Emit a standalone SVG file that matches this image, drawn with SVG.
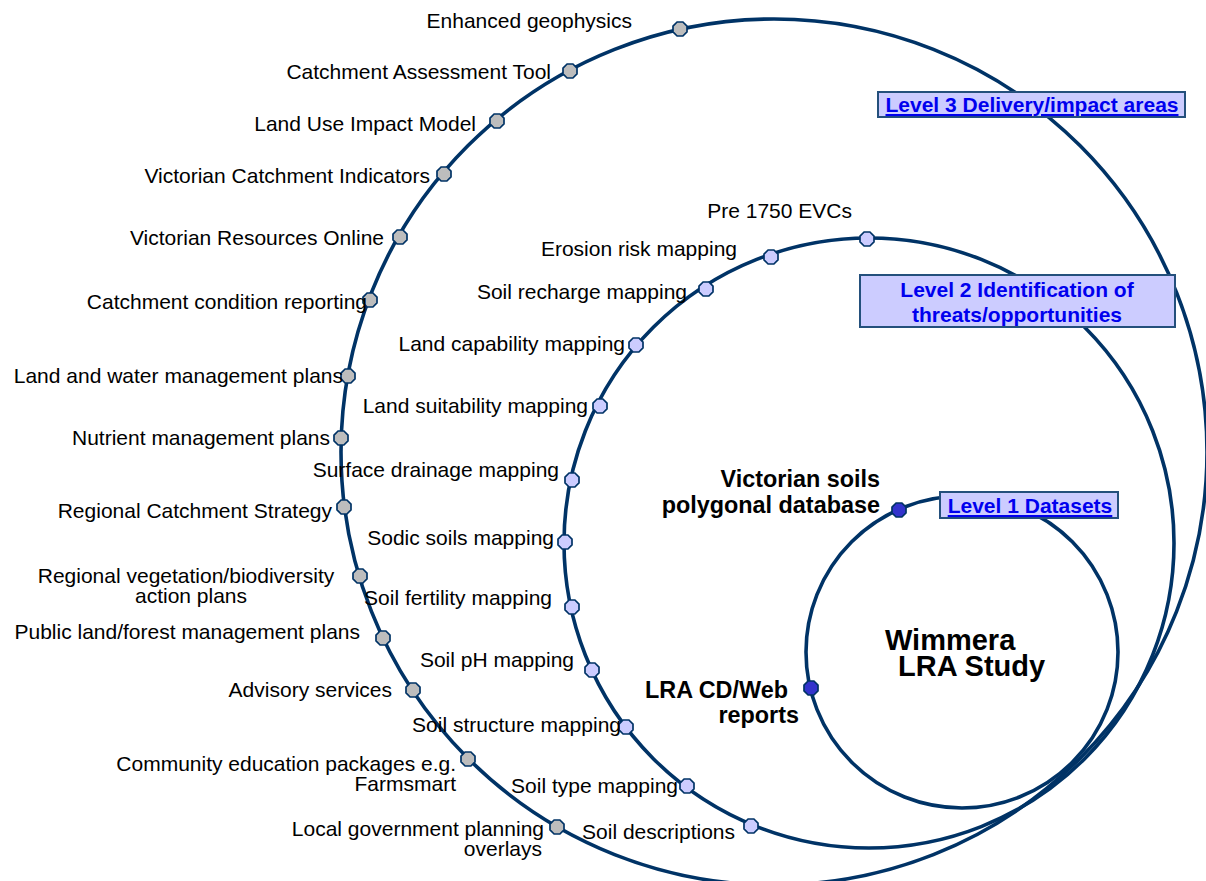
<svg xmlns="http://www.w3.org/2000/svg" xmlns:xlink="http://www.w3.org/1999/xlink" width="1206" height="881" viewBox="0 0 1206 881">
<style>
text{font-family:"Liberation Sans",Arial,Helvetica,sans-serif;fill:#000}
.lb{font-size:21px}
.bd{font-size:23.4px;font-weight:bold}
.ct{font-size:29px;font-weight:bold}
.bt{font-size:21px;font-weight:bold;fill:#0000ee}
.ul{text-decoration:underline}
.e{text-anchor:end}
.m{text-anchor:middle}
.ring{fill:none;stroke:#003366;stroke-width:3.6}
.box{fill:#ccccff;stroke:#24507c;stroke-width:2}
.n3{fill:#bdbdbd;stroke:#003366;stroke-width:1.7}
.n2{fill:#ccccff;stroke:#003366;stroke-width:1.7}
.n1{fill:#3333cc;stroke:#003366;stroke-width:1.7}
</style>
<defs>
<path id="oct" d="M7,-2.9 L7,2.9 L2.9,7 L-2.9,7 L-7,2.9 L-7,-2.9 L-2.9,-7 L2.9,-7 Z"/>
</defs>
<rect width="1206" height="881" fill="#fff"/>
<g id="connectors">
<circle class="ring" cx="774" cy="452" r="433"/>
<circle class="ring" cx="869" cy="543" r="305"/>
<circle class="ring" cx="962" cy="652" r="156"/>
</g>
<g id="level3-box"><rect class="box" x="878" y="92" width="307" height="25"/><text class="bt ul m" x="1032" y="112">Level 3 Delivery/impact areas</text></g>
<g id="level2-box"><rect class="box" x="860" y="275" width="315" height="52"/><text class="bt m" x="1017" y="297">Level 2 Identification of</text><text class="bt m" x="1017" y="322">threats/opportunities</text></g>
<g id="level1-box"><rect class="box" x="940" y="492" width="178" height="26"/><text class="bt ul m" x="1030" y="513">Level 1 Datasets</text></g>
<g id="center"><text class="ct" x="885" y="650">Wimmera</text><text class="ct" x="898" y="676">LRA Study</text></g>
<g id="n3-1"><use xlink:href="#oct" x="680" y="29" class="n3"/><text class="lb e" x="632" y="28">Enhanced geophysics</text></g>
<g id="n3-2"><use xlink:href="#oct" x="570" y="71" class="n3"/><text class="lb e" x="551" y="79">Catchment Assessment Tool</text></g>
<g id="n3-3"><use xlink:href="#oct" x="497" y="121" class="n3"/><text class="lb e" x="476" y="131">Land Use Impact Model</text></g>
<g id="n3-4"><use xlink:href="#oct" x="444" y="174" class="n3"/><text class="lb e" x="430" y="183">Victorian Catchment Indicators</text></g>
<g id="n3-5"><use xlink:href="#oct" x="400" y="237" class="n3"/><text class="lb e" x="384" y="245">Victorian Resources Online</text></g>
<g id="n3-6"><use xlink:href="#oct" x="370" y="300" class="n3"/><text class="lb e" x="367" y="309">Catchment condition reporting</text></g>
<g id="n3-7"><use xlink:href="#oct" x="348" y="376" class="n3"/><text class="lb e" x="343" y="383">Land and water management plans</text></g>
<g id="n3-8"><use xlink:href="#oct" x="341" y="438" class="n3"/><text class="lb e" x="330" y="445">Nutrient management plans</text></g>
<g id="n3-9"><use xlink:href="#oct" x="344" y="507" class="n3"/><text class="lb e" x="332" y="518">Regional Catchment Strategy</text></g>
<g id="n3-10"><use xlink:href="#oct" x="360" y="576" class="n3"/><text class="lb m" x="186" y="583">Regional vegetation/biodiversity</text><text class="lb m" x="191" y="603">action plans</text></g>
<g id="n3-11"><use xlink:href="#oct" x="383" y="638" class="n3"/><text class="lb e" x="360" y="639">Public land/forest management plans</text></g>
<g id="n3-12"><use xlink:href="#oct" x="413" y="690" class="n3"/><text class="lb e" x="392" y="697">Advisory services</text></g>
<g id="n3-13"><use xlink:href="#oct" x="468" y="759" class="n3"/><text class="lb e" x="456" y="771">Community education packages e.g.</text><text class="lb e" x="456" y="791">Farmsmart</text></g>
<g id="n3-14"><use xlink:href="#oct" x="557" y="827" class="n3"/><text class="lb e" x="544" y="836">Local government planning</text><text class="lb e" x="542" y="856">overlays</text></g>
<g id="n2-1"><use xlink:href="#oct" x="867" y="239" class="n2"/><text class="lb e" x="852" y="218">Pre 1750 EVCs</text></g>
<g id="n2-2"><use xlink:href="#oct" x="771" y="257" class="n2"/><text class="lb e" x="737" y="256">Erosion risk mapping</text></g>
<g id="n2-3"><use xlink:href="#oct" x="706" y="289" class="n2"/><text class="lb e" x="687" y="299">Soil recharge mapping</text></g>
<g id="n2-4"><use xlink:href="#oct" x="636" y="345" class="n2"/><text class="lb e" x="625" y="351">Land capability mapping</text></g>
<g id="n2-5"><use xlink:href="#oct" x="600" y="406" class="n2"/><text class="lb e" x="588" y="413">Land suitability mapping</text></g>
<g id="n2-6"><use xlink:href="#oct" x="572" y="480" class="n2"/><text class="lb e" x="559" y="477">Surface drainage mapping</text></g>
<g id="n2-7"><use xlink:href="#oct" x="565" y="542" class="n2"/><text class="lb e" x="554" y="545">Sodic soils mapping</text></g>
<g id="n2-8"><use xlink:href="#oct" x="572" y="607" class="n2"/><text class="lb e" x="552" y="605">Soil fertility mapping</text></g>
<g id="n2-9"><use xlink:href="#oct" x="592" y="670" class="n2"/><text class="lb e" x="574" y="667">Soil pH mapping</text></g>
<g id="n2-10"><use xlink:href="#oct" x="626" y="727" class="n2"/><text class="lb e" x="621" y="732">Soil structure mapping</text></g>
<g id="n2-11"><use xlink:href="#oct" x="687" y="786" class="n2"/><text class="lb e" x="678" y="793">Soil type mapping</text></g>
<g id="n2-12"><use xlink:href="#oct" x="751" y="826" class="n2"/><text class="lb e" x="735" y="839">Soil descriptions</text></g>
<g id="n1-1"><use xlink:href="#oct" x="899" y="510" class="n1"/><text class="bd e" x="880" y="487">Victorian soils</text><text class="bd e" x="880" y="513">polygonal database</text></g>
<g id="n1-2"><use xlink:href="#oct" x="811" y="688" class="n1"/><text class="bd" x="645" y="698">LRA CD/Web</text><text class="bd e" x="799" y="723">reports</text></g>
</svg>
